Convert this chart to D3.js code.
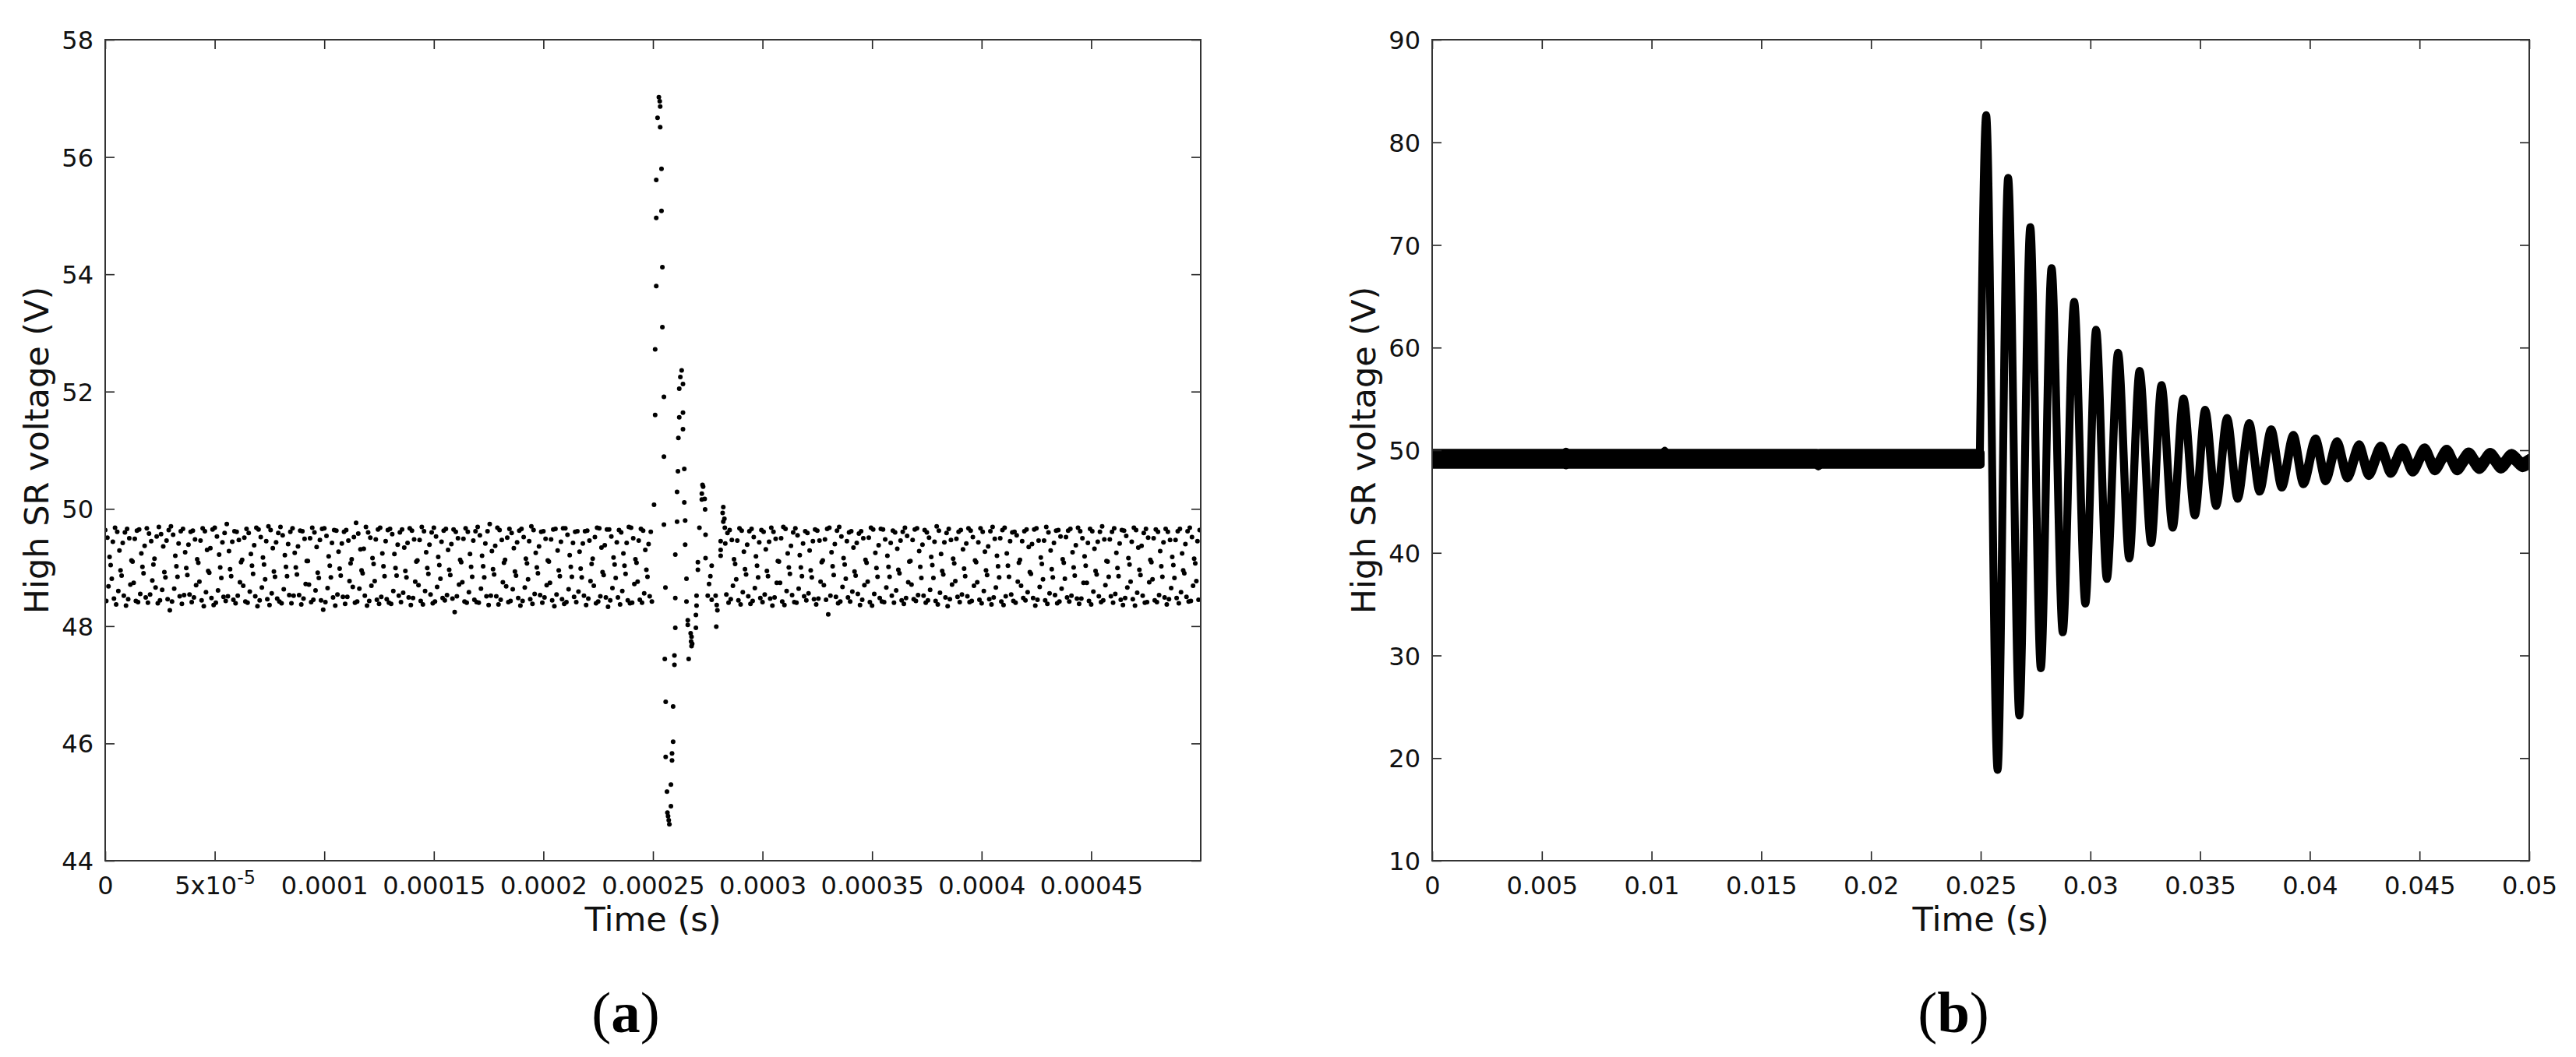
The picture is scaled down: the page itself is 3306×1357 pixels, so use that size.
<!DOCTYPE html>
<html><head><meta charset="utf-8">
<script src="https://cdn.jsdelivr.net/npm/d3@7"></script>
<style>body{margin:0;background:#fff} svg{display:block}</style>
</head><body>
<svg id="chart" width="3306" height="1357"></svg>
<script>
// ---------------- DATA ----------------
// Panel (a): tick values / labels
const aXTicks = [0,0.00005,0.0001,0.00015,0.0002,0.00025,0.0003,0.00035,0.0004,0.00045];
const aXTickLabels = ["0","5x10^-5","0.0001","0.00015","0.0002","0.00025","0.0003","0.00035","0.0004","0.00045"];
const aYTicks = [44,46,48,50,52,54,56,58];
// Panel (b): tick values / labels
const bXTicks = [0,0.005,0.01,0.015,0.02,0.025,0.03,0.035,0.04,0.045,0.05];
const bXTickLabels = ["0","0.005","0.01","0.015","0.02","0.025","0.03","0.035","0.04","0.045","0.05"];
const bYTicks = [10,20,30,40,50,60,70,80,90];

// Panel (a): uniformly sampled voltage (V) before and after the transient
const bandStep = 5e-7;          // sample period (s)
const bandPreStart = 0;         // s
const bandPostStart = 0.000283; // s
const bandPre = [
49.64,48.43,49.51,48.68,49.18,49.04,48.81,49.44,48.47,49.68,48.37,49.61,48.60,49.29,48.95,48.86,49.42,48.52,49.60,48.35,
49.66,48.46,49.50,48.71,49.12,49.10,48.74,49.49,48.43,49.63,48.41,49.65,48.55,49.24,49.01,48.90,49.37,48.49,49.67,48.40,
49.58,48.54,49.45,48.78,49.05,49.15,48.66,49.53,48.39,49.69,48.44,49.57,48.62,49.36,48.92,48.83,49.46,48.46,49.64,48.27,
49.70,48.42,49.56,48.64,49.20,49.02,48.84,49.41,48.51,49.62,48.38,49.66,48.53,49.26,48.99,48.87,49.39,48.54,49.61,48.41,
49.63,48.49,49.48,48.70,49.14,49.08,48.76,49.46,48.44,49.67,48.34,49.62,48.58,49.30,48.94,48.91,49.33,48.48,49.65,48.36,
49.68,48.40,49.53,48.61,49.22,49.00,48.82,49.43,48.50,49.59,48.43,49.74,48.51,49.28,48.97,48.85,49.44,48.45,49.62,48.39,
49.61,48.52,49.47,48.75,49.09,49.13,48.69,49.51,48.42,49.66,48.40,49.59,48.59,49.23,49.03,48.89,49.38,48.51,49.68,48.34,
49.65,48.44,49.52,48.66,49.17,49.05,48.80,49.45,48.46,49.70,48.36,49.64,48.56,49.33,48.93,48.84,49.43,48.47,49.59,48.42,
49.69,48.39,49.55,48.63,49.21,49.01,48.85,49.40,48.53,49.61,48.39,49.67,48.52,49.25,49.00,48.88,49.36,48.53,49.63,48.37,
49.62,48.47,49.49,48.72,49.11,49.11,48.71,49.50,48.41,49.68,48.45,49.60,48.61,49.35,48.91,48.82,49.47,48.44,49.66,48.28,
49.67,48.41,49.54,48.65,49.19,49.03,48.83,49.42,48.49,49.64,48.35,49.63,48.54,49.27,48.98,48.86,49.41,48.50,49.61,48.38,
49.64,48.50,49.46,48.77,49.07,49.14,48.67,49.52,48.40,49.76,48.42,49.58,48.64,49.31,48.95,48.90,49.32,48.52,49.69,48.35,
49.60,48.43,49.51,48.69,49.16,49.06,48.77,49.48,48.45,49.65,48.38,49.68,48.50,49.24,49.02,48.85,49.45,48.46,49.64,48.40,
49.66,48.38,49.57,48.60,49.23,48.99,48.86,49.39,48.52,49.60,48.41,49.65,48.57,49.34,48.94,48.83,49.42,48.49,49.67,48.36,
49.63,48.48,49.48,48.76,49.10,49.12,48.70,49.47,48.43,49.69,48.37,49.62,48.60,49.26,48.99,48.89,49.39,48.54,49.60,48.39,
49.68,48.42,49.53,48.67,49.18,49.04,48.81,49.44,48.48,49.63,48.44,49.66,48.53,49.30,48.96,48.87,49.40,48.47,49.65,48.24,
49.61,48.51,49.50,48.71,49.13,49.09,48.75,49.49,48.42,49.67,48.40,49.61,48.58,49.23,49.01,48.84,49.46,48.45,49.62,48.41,
49.69,48.40,49.55,48.64,49.20,49.02,48.83,49.41,48.51,49.62,48.36,49.74,48.52,49.28,48.97,48.88,49.37,48.51,49.68,48.37,
49.64,48.45,49.47,48.75,49.08,49.13,48.68,49.51,48.41,49.66,48.43,49.59,48.63,49.33,48.93,48.86,49.43,48.48,49.63,48.35,
49.66,48.43,49.52,48.66,49.15,49.07,48.80,49.45,48.46,49.70,48.38,49.64,48.55,49.25,49.00,48.90,49.36,48.53,49.61,48.40,
49.62,48.49,49.49,48.70,49.12,49.10,48.74,49.48,48.44,49.65,48.34,49.66,48.54,49.29,48.95,48.85,49.44,48.46,49.67,48.38,
49.67,48.41,49.56,48.63,49.21,49.01,48.84,49.42,48.50,49.61,48.41,49.62,48.59,49.27,48.98,48.83,49.41,48.52,49.62,48.36,
49.63,48.47,49.46,48.77,49.06,49.15,48.69,49.52,48.39,49.68,48.42,49.67,48.51,49.34,48.92,48.87,49.38,48.49,49.65,48.33,
49.65,48.44,49.53,48.65,49.17,49.05,48.82,49.43,48.49,49.64,48.37,49.60,48.60,49.24,49.03,48.89,49.42,48.44,49.69,48.39,
49.68,48.40,49.50,48.72,49.14,49.08,48.76,49.46,48.45,49.66,48.40,49.63,48.56,49.30,48.96,48.84,49.40,48.51,49.61,48.42];
const bandPost = [
49.41,48.54,49.59,48.40,49.64,48.46,49.47,48.69,49.14,49.06,48.80,49.46,48.44,49.67,48.37,49.63,48.58,49.27,48.97,48.88,
49.39,48.51,49.62,48.38,49.66,48.43,49.52,48.65,49.19,49.03,48.83,49.43,48.48,49.64,48.41,49.61,48.54,49.31,48.94,48.85,
49.44,48.47,49.68,48.35,49.61,48.49,49.49,48.74,49.11,49.10,48.74,49.50,48.42,49.69,48.36,49.66,48.60,49.24,49.00,48.89,
49.37,48.53,49.60,48.41,49.67,48.40,49.55,48.64,49.21,49.00,48.85,49.41,48.51,49.62,48.44,49.59,48.56,49.29,48.95,48.83,
49.45,48.46,49.65,48.37,49.63,48.47,49.46,48.76,49.09,49.12,48.70,49.48,48.45,49.66,48.20,49.68,48.52,49.26,49.02,48.87,
49.40,48.50,49.63,48.39,49.69,48.42,49.53,48.67,49.16,49.05,48.81,49.45,48.49,49.60,48.42,49.62,48.59,49.34,48.93,48.86,
49.42,48.55,49.58,48.36,49.62,48.45,49.50,48.70,49.13,49.08,48.76,49.51,48.41,49.68,48.35,49.65,48.55,49.25,48.99,48.84,
49.38,48.48,49.66,48.42,49.65,48.41,49.48,48.66,49.20,49.01,48.84,49.42,48.52,49.63,48.40,49.60,48.61,49.32,48.96,48.90,
49.46,48.44,49.61,48.38,49.68,48.48,49.54,48.75,49.10,49.11,48.71,49.47,48.46,49.65,48.43,49.67,48.53,49.28,49.01,48.82,
49.39,48.52,49.64,48.40,49.60,48.44,49.51,48.62,49.18,49.04,48.82,49.44,48.43,49.70,48.37,49.63,48.57,49.23,48.94,48.88,
49.43,48.49,49.59,48.34,49.66,48.46,49.47,48.71,49.15,49.07,48.77,49.49,48.50,49.61,48.41,49.64,48.54,49.31,48.98,48.85,
49.41,48.51,49.67,48.41,49.63,48.43,49.52,48.69,49.12,49.09,48.75,49.43,48.45,49.67,48.39,49.61,48.60,49.27,48.95,48.87,
49.36,48.46,49.62,48.37,49.69,48.49,49.49,48.66,49.20,49.02,48.83,49.50,48.42,49.64,48.36,49.68,48.51,49.24,49.03,48.84,
49.45,48.54,49.60,48.43,49.61,48.40,49.55,48.76,49.08,49.13,48.69,49.45,48.48,49.62,48.44,49.65,48.58,49.35,48.92,48.89,
49.40,48.48,49.65,48.35,49.67,48.45,49.46,48.67,49.17,49.06,48.80,49.46,48.44,49.69,48.38,49.60,48.56,49.29,48.97,48.83,
49.42,48.53,49.63,48.39,49.64,48.42,49.53,48.64,49.14,49.08,48.81,49.52,48.49,49.63,48.42,49.66,48.52,49.26,49.00,48.86,
49.38,48.47,49.68,48.38,49.62,48.47,49.50,48.74,49.19,49.03,48.74,49.42,48.43,49.66,48.37,49.62,48.59,49.32,48.94,48.88,
49.44,48.51,49.61,48.41,49.70,48.44,49.48,48.70,49.11,49.10,48.84,49.48,48.51,49.61,48.40,49.67,48.55,49.25,48.99,48.85,
49.41,48.45,49.64,48.36,49.63,48.48,49.54,48.66,49.16,49.05,48.76,49.44,48.46,49.68,48.35,49.64,48.57,49.34,48.96,48.87,
49.37,48.52,49.59,48.40,49.66,48.41,49.51,48.75,49.13,49.09,48.80,49.50,48.44,49.65,48.41,49.61,48.53,49.28,49.02,48.84,
49.43,48.49,49.66,48.37,49.61,48.46,49.47,48.65,49.18,49.04,48.82,49.47,48.48,49.62,48.39,49.66,48.58,49.24,48.95,48.90,
49.40,48.50,49.62,48.42,49.68,48.43,49.52,48.69,49.15,49.07,48.77,49.45,48.45,49.64];
// Panel (a): transient samples (time s, voltage V)
const spikeT = [
2.505e-4,2.510e-4,2.510e-4,2.515e-4,2.515e-4,2.515e-4,2.521e-4,2.527e-4,2.531e-4,2.533e-4,2.533e-4,2.539e-4,2.539e-4,2.543e-4,2.543e-4,
2.550e-4,2.550e-4,2.550e-4,2.554e-4,2.557e-4,2.558e-4,2.558e-4,2.564e-4,2.566e-4,2.569e-4,2.572e-4,2.575e-4,2.582e-4,2.582e-4,2.587e-4,
2.587e-4,2.592e-4,2.592e-4,2.598e-4,2.598e-4,2.602e-4,2.602e-4,2.602e-4,
2.610e-4,2.610e-4,2.614e-4,2.616e-4,2.620e-4,2.620e-4,2.625e-4,2.631e-4,2.637e-4,2.637e-4,2.637e-4,2.643e-4,2.643e-4,2.647e-4,2.647e-4,
2.653e-4,2.653e-4,2.659e-4,2.659e-4,2.663e-4,2.672e-4,2.676e-4,2.674e-4,2.679e-4,2.676e-4,
2.696e-4,2.696e-4,2.699e-4,2.699e-4,2.705e-4,2.705e-4,2.712e-4,2.723e-4,2.723e-4,2.726e-4,2.729e-4,2.736e-4,2.738e-4,2.740e-4,2.740e-4,
2.750e-4,2.756e-4,2.762e-4,2.768e-4,2.768e-4,2.786e-4,2.789e-4,2.791e-4,2.794e-4,2.809e-4,2.809e-4,2.809e-4,
2.818e-4,2.821e-4,2.821e-4,2.826e-4,2.828e-4];
const spikeV = [
50.07,51.60,52.72,53.80,54.96,55.61,56.67,57.02,56.95,56.86,56.51,55.80,55.08,54.12,53.10,
51.91,50.89,49.73,47.44,48.66,46.71,45.77,45.18,44.82,44.76,44.69,44.62,44.93,45.30,45.83,
45.71,46.03,46.63,47.50,47.34,47.97,48.48,49.22,
49.78,50.29,50.64,51.21,51.56,52.05,52.25,52.36,52.13,51.64,51.36,50.68,50.11,49.80,49.39,
48.81,48.42,48.10,48.02,47.44,47.88,47.82,47.74,47.70,47.66,
47.97,48.19,48.35,48.52,48.96,49.09,49.68,50.26,50.16,50.41,50.38,50.17,49.99,49.56,49.16,
48.52,48.72,48.85,49.03,48.45,48.52,47.99,48.36,48.27,49.45,49.30,49.20,
49.93,50.03,49.78,49.83,49.68];

// Panel (b): pre-fault band (time s, upper / lower voltage V)
const baseT  = [0, 0.0060, 0.0061, 0.0062, 0.0105, 0.0106, 0.0107, 0.0175, 0.0176, 0.0177, 0.0250];
const baseHi = [49.76,49.76,49.86,49.76,49.76,49.94,49.76,49.76,49.74,49.76,49.76];
const baseLo = [48.58,48.58,48.52,48.58,48.58,48.58,48.58,48.58,48.42,48.58,48.58];
// Panel (b): damped oscillation extrema (time s, voltage V)
const oscT = [0.02496,0.02525,0.02577,0.02625,0.02676,0.02726,0.02774,0.02823,0.02874,0.02926,
  0.02977,0.03026,0.03075,0.03126,0.03177,0.03224,0.03277,0.03324,0.03375,0.03424,
  0.03476,0.03523,0.03573,0.03623,0.03671,0.03724,0.03771,0.03824,0.03872,0.03925,
  0.03971,0.04026,0.04072,0.04124,0.04171,0.04225,0.04268,0.04324,0.04368,0.04422,
  0.04469,0.04523,0.04570,0.04624,0.04671,0.04724,0.04772,0.04822,0.04872,0.04919,
  0.04970,0.05000];
const oscV = [49.15,82.30,19.20,76.20,24.50,71.40,29.10,67.40,32.60,64.10,
  35.40,61.40,37.80,59.15,39.80,57.40,41.30,56.00,42.80,54.70,
  44.00,53.60,44.90,52.80,45.60,52.30,46.30,51.70,46.70,51.15,
  47.02,50.81,47.32,50.55,47.58,50.23,47.83,50.10,48.04,49.93,
  48.16,49.93,48.29,49.80,48.29,49.54,48.42,49.49,48.46,49.41,
  48.59,48.90];
const oscSpread = 0.35; // half-width of the measurement noise band (V)

// ---------------- LAYOUT ----------------
const svg = d3.select("#chart");
const FONT = "DejaVu Sans";
const panels = [
  {id:"a", left:135, right:1541, top:51, bottom:1105, xDomain:[0,0.0005], yDomain:[44,58],
   xTicks:aXTicks, xLabels:aXTickLabels, yTicks:aYTicks, tag:"a"},
  {id:"b", left:1838, right:3246, top:51, bottom:1105, xDomain:[0,0.05], yDomain:[10,90],
   xTicks:bXTicks, xLabels:bXTickLabels, yTicks:bYTicks, tag:"b"}
];

function drawPanel(p, drawData){
  const g = svg.append("g");
  const x = d3.scaleLinear().domain(p.xDomain).range([p.left,p.right]);
  const y = d3.scaleLinear().domain(p.yDomain).range([p.bottom,p.top]);
  const clipId = "clip-"+p.id;
  svg.append("clipPath").attr("id",clipId).append("rect")
    .attr("x",p.left).attr("y",p.top).attr("width",p.right-p.left).attr("height",p.bottom-p.top);
  const dg = g.append("g").attr("clip-path",`url(#${clipId})`);
  drawData(dg,x,y);

  // axes (inward ticks, mirrored)
  const tickStyle = sel => { sel.select(".domain").remove();
    sel.selectAll(".tick line").attr("stroke","#222").attr("stroke-width",1.6); };
  const bx = g.append("g").attr("transform",`translate(0,${p.bottom})`)
    .call(d3.axisBottom(x).tickValues(p.xTicks).tickFormat((d,i)=>p.xLabels[i]).tickSize(-12).tickPadding(20));
  bx.call(tickStyle);
  bx.selectAll("text").attr("font-family",FONT).attr("font-size",32).attr("fill","#111")
    .each(function(d,i){
      const lab = p.xLabels[i];
      if(lab.indexOf("^")>=0){
        const parts = lab.split("^");
        const t = d3.select(this).text(null);
        t.append("tspan").text(parts[0]);
        t.append("tspan").attr("font-size",24).attr("dy",-13).text(parts[1]);
      }
    });
  g.append("g").attr("transform",`translate(0,${p.top})`)
    .call(d3.axisTop(x).tickValues(p.xTicks).tickFormat("").tickSize(-12)).call(tickStyle);
  const ly = g.append("g").attr("transform",`translate(${p.left},0)`)
    .call(d3.axisLeft(y).tickValues(p.yTicks).tickFormat(d3.format("d")).tickSize(-12).tickPadding(15));
  ly.call(tickStyle);
  ly.selectAll("text").attr("font-family",FONT).attr("font-size",32).attr("fill","#111").attr("dy","0.36em");
  g.append("g").attr("transform",`translate(${p.right},0)`)
    .call(d3.axisRight(y).tickValues(p.yTicks).tickFormat("").tickSize(-12)).call(tickStyle);

  // frame
  g.append("rect").attr("x",p.left).attr("y",p.top).attr("width",p.right-p.left).attr("height",p.bottom-p.top)
    .attr("fill","none").attr("stroke","#333").attr("stroke-width",2);

  // axis titles
  const cx = (p.left+p.right)/2, cy = (p.top+p.bottom)/2;
  g.append("text").attr("x",cx).attr("y",1195).attr("text-anchor","middle")
    .attr("font-family",FONT).attr("font-size",43).attr("fill","#111").text("Time (s)");
  g.append("text").attr("transform",`translate(${p.left-73},${cy}) rotate(-90)`).attr("text-anchor","middle")
    .attr("font-family",FONT).attr("font-size",43).attr("fill","#111").text("High SR voltage (V)");
  // subfigure tag
  const tg = g.append("text").attr("x",cx-35).attr("y",1325).attr("text-anchor","middle")
    .attr("font-family","Liberation Serif").attr("font-size",75).attr("fill","#000");
  tg.append("tspan").text("(");
  tg.append("tspan").attr("font-weight","bold").text(p.tag);
  tg.append("tspan").text(")");
}

// Panel (a): scatter
drawPanel(panels[0], (dg,x,y)=>{
  const pts = [];
  bandPre.forEach((v,i)=>pts.push([bandPreStart+i*bandStep, v]));
  bandPost.forEach((v,i)=>pts.push([bandPostStart+i*bandStep, v]));
  spikeT.forEach((t,i)=>pts.push([t, spikeV[i]]));
  dg.selectAll("circle").data(pts).join("circle")
    .attr("cx",d=>x(d[0])).attr("cy",d=>y(d[1])).attr("r",3).attr("fill","#000");
});

// Panel (b): thick noisy trace
drawPanel(panels[1], (dg,x,y)=>{
  const base = baseT.map((t,i)=>({t, hi:baseHi[i], lo:baseLo[i]}));
  dg.append("path").datum(base)
    .attr("d", d3.area().x(d=>x(d.t)).y0(d=>y(d.lo)).y1(d=>y(d.hi)))
    .attr("fill","#000").attr("stroke","#000").attr("stroke-width",10).attr("stroke-linejoin","round");
  const osc = oscT.map((t,i)=>({t, v:oscV[i]}));
  dg.append("path").datum(osc)
    .attr("d", d3.area().curve(d3.curveMonotoneX).x(d=>x(d.t))
      .y0(d=>y(d.v-oscSpread)).y1(d=>y(d.v+oscSpread)))
    .attr("fill","#000").attr("stroke","#000").attr("stroke-width",10).attr("stroke-linejoin","round");
});
</script>
</body></html>
